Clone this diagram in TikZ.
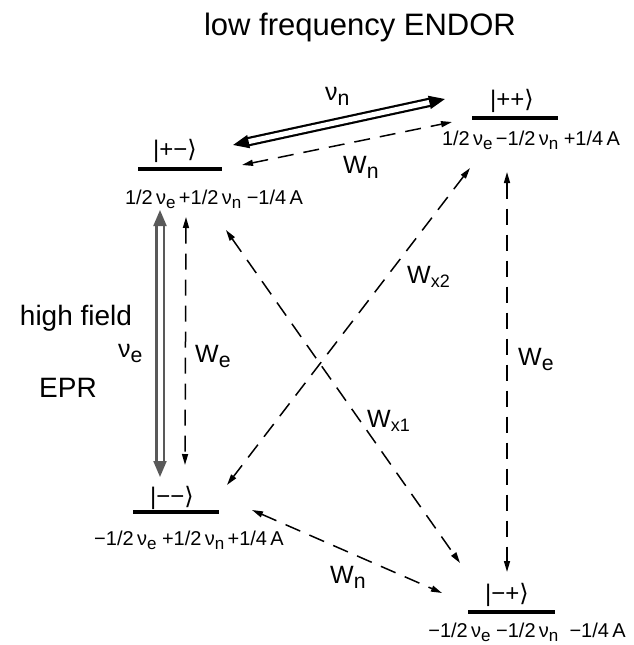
\documentclass[tikz,border=0pt]{standalone}
\usepackage{fontspec}
\setmainfont{Liberation Sans}
\newfontfamily\dvs{DejaVu Sans}
\usetikzlibrary{arrows.meta}
\newcommand{\sbs}[1]{\raisebox{-0.45ex}{\scalebox{0.85}{#1}}}
\newcommand{\sbx}[1]{\raisebox{-0.35ex}{\scalebox{0.72}{#1}}}
\newcommand{\kt}[1]{|#1{\dvs ⟩}}
\begin{document}
\begin{tikzpicture}[x=1pt,y=-1pt,
  ttl/.style={font=\fontsize{31}{33}\selectfont, inner sep=0pt, anchor=base},
  side/.style={font=\fontsize{28}{30}\selectfont, inner sep=0pt, anchor=base},
  ket/.style={font=\fontsize{24}{26}\selectfont, inner sep=0pt, anchor=base west},
  en/.style={font=\fontsize{20}{22}\selectfont, inner sep=0pt, anchor=base},
  wl/.style={font=\fontsize{25}{27}\selectfont, inner sep=0pt, anchor=base west},
  lvl/.style={fill=black, minimum height=3.6pt, inner sep=0pt, draw=none},
  dsh/.style={line width=1.5pt, dash pattern=on 16pt off 10pt,
    {Triangle[length=11pt,width=6pt]}-{Triangle[length=11pt,width=6pt]}},
  dbl/.style={double distance=5pt, line width=2.2pt,
    {Triangle[length=16pt,width=13pt]}-{Triangle[length=16pt,width=13pt]}},
]
\useasboundingbox (0,0) rectangle (634,645);

% title and side labels
\node[ttl] (title) at (360,35) {low frequency ENDOR};
\node[side] (hf) at (76,325) {high field};
\node[side] (epr) at (68,397) {EPR};

% levels
\node[lvl, minimum width=84pt] (pm) at (180,169) {};
\node[lvl, minimum width=86pt] (pp) at (515,118) {};
\node[lvl, minimum width=86pt] (mm) at (176,512) {};
\node[lvl, minimum width=87pt] (mp) at (511.5,612) {};

\node[ket] (pmk) at (153,157) {\kt{+−}};
\node[ket] (ppk) at (490,107) {\kt{++}};
\node[ket] (mmk) at (150,504) {\kt{−−}};
\node[ket] (mpk) at (485,601) {\kt{−+}};

\node[en] (pme) at (214,204) {1/2\,ν\sbs{e}\,+1/2\,ν\sbs{n} −1/4\,A};
\node[en] (ppe) at (531,145) {1/2\,ν\sbs{e}\,−1/2\,ν\sbs{n} +1/4\,A};
\node[en] (mme) at (189,545) {−1/2\,ν\sbs{e} +1/2\,ν\sbs{n}\,+1/4\,A};
\node[en] (mpe) at (527,637) {−1/2\,ν\sbs{e} −1/2\,ν\sbs{n} \ −1/4\,A};

% connector end points
\coordinate (nuA) at (233,145);  \coordinate (nuB) at (445,99);
\coordinate (wnA) at (242,165);  \coordinate (wnB) at (452,122);
\coordinate (neA) at (160,210);  \coordinate (neB) at (160,477);
\coordinate (weA) at (186,217);  \coordinate (weB) at (185,465);
\coordinate (wrA) at (507,172);  \coordinate (wrB) at (507,572);
\coordinate (x1A) at (226,230);  \coordinate (x1B) at (460,563);
\coordinate (x2A) at (470,168);  \coordinate (x2B) at (227,485);
\coordinate (wbA) at (252,510);  \coordinate (wbB) at (442,593);

% connectors
\draw[dbl] (nuA) -- (nuB);
\draw[dbl, draw=black!65] (neA) -- (neB);
\draw[dsh] (wnA) -- (wnB);
\draw[dsh] (weA) -- (weB);
\draw[dsh] (wrA) -- (wrB);
\draw[dsh] (x1A) -- (x1B);
\draw[dsh] (x2A) -- (x2B);
\draw[dsh] (wbA) -- (wbB);

% connector labels
\node[wl] (lnun) at (325,100) {ν\sbs{n}};
\node[wl] (lwn) at (343,173) {W\sbs{n}};
\node[wl] (lnue) at (118,357) {ν\sbs{e}};
\node[wl] (lwe) at (195,362) {W\sbs{e}};
\node[wl] (lwr) at (518,365) {W\sbs{e}};
\node[wl] (lx2) at (407,283) {W\sbx{x2}};
\node[wl] (lx1) at (367,427) {W\sbx{x1}};
\node[wl] (lwb) at (330,583) {W\sbs{n}};
\end{tikzpicture}
\end{document}
